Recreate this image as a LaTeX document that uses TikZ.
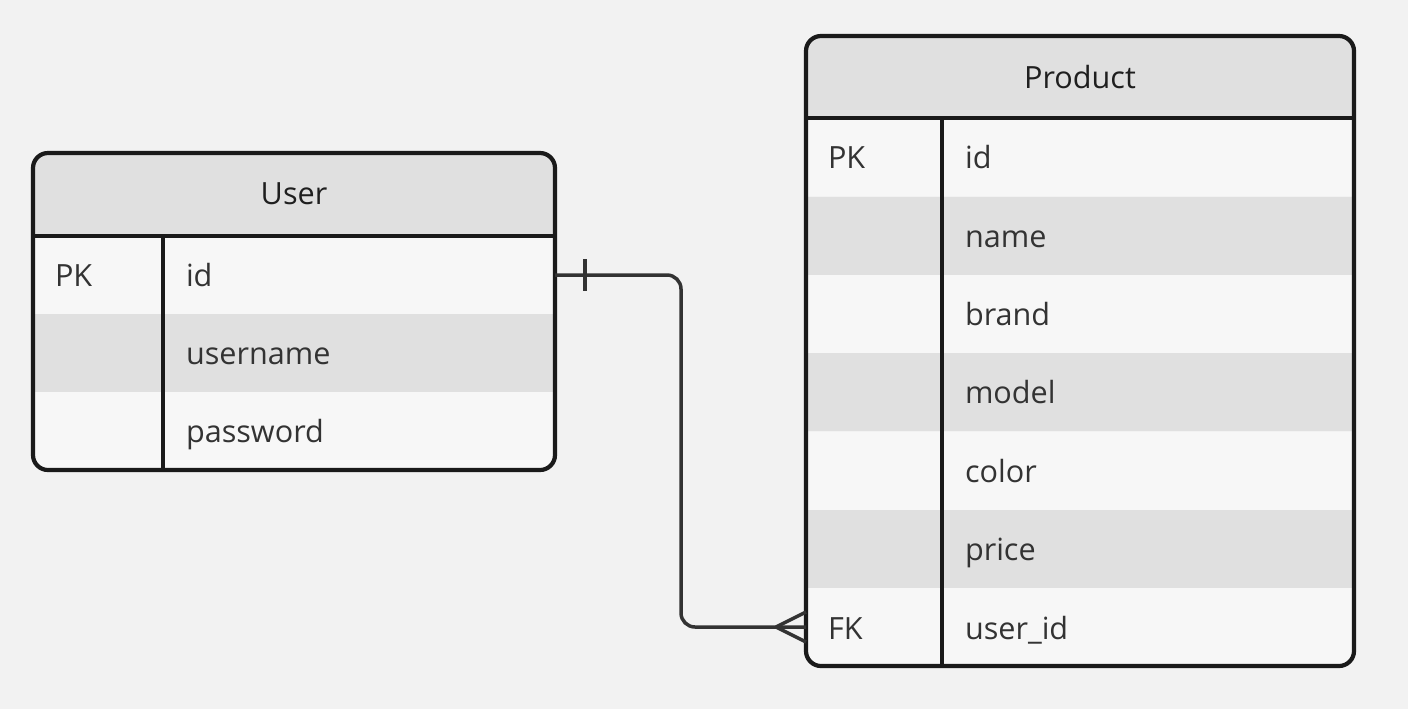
\documentclass[tikz,border=0pt]{standalone}
\usepackage{fontspec}
\setmainfont{Open Sans}
\usetikzlibrary{calc}
\definecolor{bg}{HTML}{F2F2F2}
\definecolor{hdr}{HTML}{E0E0E0}
\definecolor{lite}{HTML}{F7F7F7}
\definecolor{darkrow}{HTML}{E0E0E0}
\definecolor{edgec}{HTML}{1A1A1A}
\definecolor{txt}{HTML}{333333}
\definecolor{ttl}{HTML}{1F1F1F}
\definecolor{conn}{HTML}{333333}
\begin{document}
\begin{tikzpicture}[x=0.5pt,y=-0.5pt,
  every node/.style={font=\fontsize{15.3}{18}\selectfont, text=txt, inner sep=0pt, outer sep=0pt},
  boxrow/.style={anchor=north west, minimum height=39pt, draw=none},
  ulen/.style={minimum width=261pt},
  plen/.style={minimum width=274pt},
  keytext/.style={anchor=base west},
  titletext/.style={text=ttl},
  border/.style={draw=edgec, line width=2.1pt, rounded corners=7.5pt},
  sep/.style={draw=edgec, line width=2pt},
  link/.style={draw=conn, line width=1.75pt}
]
\fill[bg] (0,0) rectangle (1408,709);
\useasboundingbox (0,0) rectangle (1408,709);

% ---------- User table ----------
\begin{scope}
\clip[rounded corners=7.5pt] (33,153) rectangle (555,470);
\node[boxrow, ulen, fill=hdr, minimum height=41.5pt] (uhead) at (33,153) {};
\node[boxrow, ulen, fill=lite] (u1) at (33,236) {};
\node[boxrow, ulen, fill=darkrow] (u2) at (33,314) {};
\node[boxrow, ulen, fill=lite] (u3) at (33,392) {};
\end{scope}
\node[titletext] (utitle) at (294,194) {User};
\node[keytext] (uk1) at (55,286) {PK};
\node[keytext] (un1) at (186,286) {id};
\node[keytext] (un2) at (186,364) {username};
\node[keytext] (un3) at (186,442) {password};
\draw[border] (33,153) rectangle (555,470);
\draw[sep] (33,236) -- (555,236);
\draw[sep] (163,236) -- (163,470);

% ---------- Product table ----------
\begin{scope}
\clip[rounded corners=7.5pt] (806,36) rectangle (1354,666);
\node[boxrow, plen, fill=hdr, minimum height=41pt] (phead) at (806,36) {};
\node[boxrow, plen, fill=lite] (p1) at (806,118) {};
\node[boxrow, plen, fill=darkrow] (p2) at (806,197) {};
\node[boxrow, plen, fill=lite] (p3) at (806,275) {};
\node[boxrow, plen, fill=darkrow] (p4) at (806,353) {};
\node[boxrow, plen, fill=lite] (p5) at (806,432) {};
\node[boxrow, plen, fill=darkrow] (p6) at (806,510) {};
\node[boxrow, plen, fill=lite] (p7) at (806,588) {};
\end{scope}
\node[titletext] (ptitle) at (1080,77) {Product};
\node[keytext] (pk1) at (828,168) {PK};
\node[keytext] (pn1) at (965,168) {id};
\node[keytext] (pn2) at (965,247) {name};
\node[keytext] (pn3) at (965,325) {brand};
\node[keytext] (pn4) at (965,403) {model};
\node[keytext] (pn5) at (965,482) {color};
\node[keytext] (pn6) at (965,560) {price};
\node[keytext] (pk7) at (828,639) {FK};
\node[keytext] (pn7) at (965,639) {user\_id};
\draw[border] (806,36) rectangle (1354,666);
\draw[sep] (806,118) -- (1354,118);
\draw[sep] (942,118) -- (942,666);

% ---------- Relationship ----------
\draw[link, rounded corners=7pt] (u1.east) -- ++(126,0) |- (p7.west);
\draw[link] ($(u1.east)+(30,-16)$) -- ($(u1.east)+(30,16)$);
\draw[link] ($(p7.west)+(-30,0)$) -- ($(p7.west)+(0,-15)$);
\draw[link] ($(p7.west)+(-30,0)$) -- ($(p7.west)+(0,15)$);
\end{tikzpicture}
\end{document}
